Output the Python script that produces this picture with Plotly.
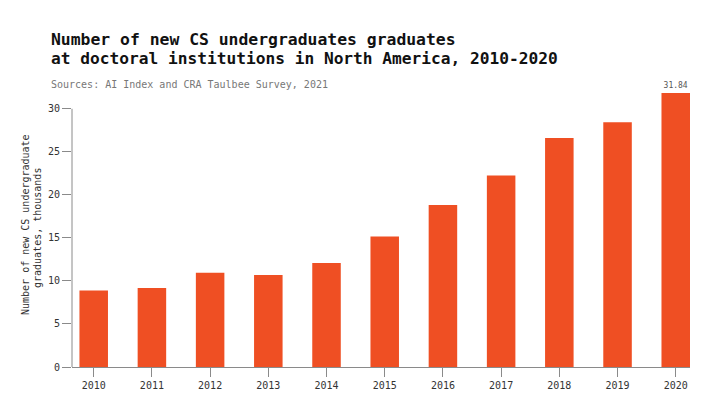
import plotly.graph_objects as go

years = ["2010", "2011", "2012", "2013", "2014", "2015", "2016", "2017", "2018", "2019", "2020"]
graduates = [8.9, 9.18, 10.95, 10.68, 12.07, 15.16, 18.82, 22.26, 26.62, 28.43, 31.84]
label_text = ["", "", "", "", "", "", "", "", "", "", "31.84"]
y_ticks = [0, 5, 10, 15, 20, 25, 30]

title_lines = ["Number of new CS undergraduates graduates",
               "at doctoral institutions in North America, 2010-2020"]
subtitle = "Sources: AI Index and CRA Taulbee Survey, 2021"
ytitle_lines = ["Number of new CS undergraduate", "graduates, thousands"]

MONO = "DejaVu Sans Mono, Liberation Mono, monospace"
BAR = "#EF4F23"
AXIS = "#8a8a8a"

# the page places the figure 8px in from the top-left corner
OFF = 8
W, H = 720, 393
L, R, T, B = 72 - OFF, 30 + OFF, 89 - OFF, 26 + OFF
PW, PH = W - L - R, H - T - B


def px(x):
    return (x - OFF - L) / PW


def py(y):
    return (H - B - (y - OFF)) / PH


fig = go.Figure()
fig.add_trace(go.Bar(
    x=years, y=graduates,
    marker=dict(color=BAR, line=dict(width=0)),
    width=0.49,
    text=label_text, textposition="outside",
    textfont=dict(family=MONO, size=8, color="#555555"),
    cliponaxis=False,
    hoverinfo="x+y",
))

ann = [
    dict(text="<b>%s</b>" % title_lines[0], x=px(49), y=py(39), font=dict(family=MONO, size=16.4, color="#111111")),
    dict(text="<b>%s</b>" % title_lines[1], x=px(49), y=py(58), font=dict(family=MONO, size=16.2, color="#111111")),
    dict(text=subtitle, x=px(49), y=py(84.5), font=dict(family=MONO, size=10, color="#777777")),
]
for a in ann:
    a.update(xref="paper", yref="paper", xanchor="left", yanchor="middle", showarrow=False)
ann += [
    dict(text=ytitle_lines[0], x=px(25), y=py(225), textangle=-90),
    dict(text=ytitle_lines[1], x=px(37), y=py(228), textangle=-90),
]
for a in ann[3:]:
    a.update(xref="paper", yref="paper", xanchor="center", yanchor="middle", showarrow=False,
             font=dict(family=MONO, size=10, color="#333333"))

fig.update_layout(
    width=W, height=H,
    margin=dict(l=L, r=R, t=T, b=B, autoexpand=False),
    paper_bgcolor="white", plot_bgcolor="white",
    showlegend=False,
    annotations=ann,
    shapes=[dict(type="line", xref="paper", yref="y", x0=0, x1=0, y0=0, y1=30,
                 line=dict(color=AXIS, width=1))],
)

fig.update_xaxes(
    type="category", range=[-0.373, 10.245],
    showline=True, linecolor=AXIS, linewidth=1,
    ticks="outside", ticklen=9, tickcolor=AXIS,
    tickfont=dict(family=MONO, size=10, color="#333333"),
    showgrid=False, zeroline=False, automargin=False,
)
fig.update_yaxes(
    range=[0, 32.3], tickvals=y_ticks,
    showline=False,
    ticks="outside", ticklen=9, tickcolor=AXIS,
    tickfont=dict(family=MONO, size=10, color="#333333"),
    showgrid=False, zeroline=False, automargin=False,
)

fig.write_html("out.html")
